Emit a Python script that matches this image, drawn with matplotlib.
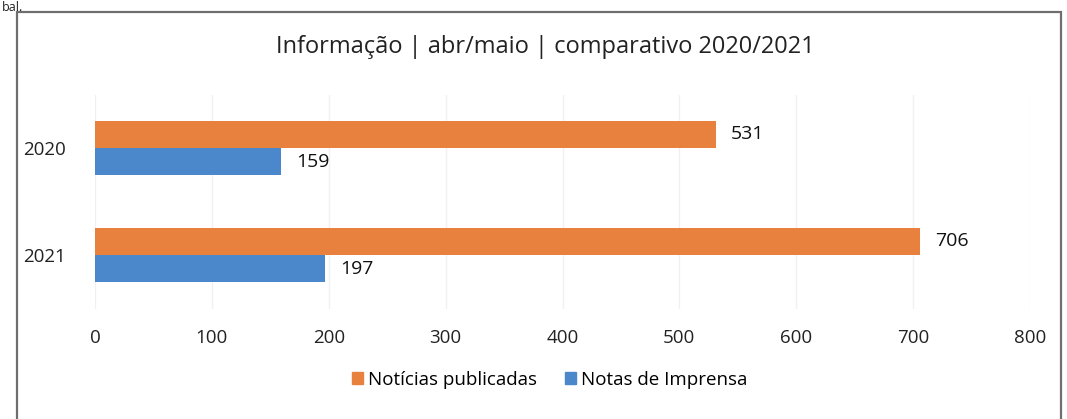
import matplotlib
matplotlib.use("Agg")
import matplotlib.pyplot as plt
from matplotlib.patches import Rectangle, Patch
import numpy as np

categories = ["2020", "2021"]
noticias = [531, 706]
notas = [159, 197]
xticks = [0, 100, 200, 300, 400, 500, 600, 700, 800]
title = "Informação | abr/maio | comparativo 2020/2021"
series_names = ["Notícias publicadas", "Notas de Imprensa"]

orange = "#E8803E"
blue = "#4A88CB"

plt.rcParams['font.family'] = ['Open Sans', 'DejaVu Sans']

W, H = 1067, 419
fig = plt.figure(figsize=(W / 100, H / 100), dpi=100)
fig.patch.set_facecolor("white")

# frame around chart
fig.patches.append(Rectangle((17 / W, -0.05), (1061 - 17) / W, 1 - 12 / H + 0.05,
                             transform=fig.transFigure, fill=False,
                             edgecolor="#6e6e6e", linewidth=1.6))
fig.text(2 / W, 1 - 1 / H, "bal.", fontsize=9, va="top", ha="left", color="#222222")

ax = fig.add_axes([95 / W, 1 - 308.5 / H, (1030 - 95) / W, (308.5 - 94.5) / H])
y = np.arange(len(categories))
h = 0.255
b1 = ax.barh(y - h / 2, noticias, height=h, color=orange)
b2 = ax.barh(y + h / 2, notas, height=h, color=blue)
ax.set_ylim(len(categories) - 0.5, -0.5)
ax.set_xlim(0, 800)
ax.set_xticks(xticks)
ax.set_xticklabels([str(t) for t in xticks], fontsize=13.5, color="#222222")
ax.set_yticks(y)
ax.set_yticklabels(categories, fontsize=13.5, color="#222222")
ax.tick_params(axis="both", length=0)
ax.tick_params(axis="x", pad=15)
ax.tick_params(axis="y", pad=21)
for s in ax.spines.values():
    s.set_visible(False)
ax.grid(axis="x", color="#f0f0f0", linewidth=1)
ax.set_axisbelow(True)

for bars in (b1, b2):
    for r in bars:
        ax.text(r.get_width() + 13, r.get_y() + r.get_height() / 2, str(int(r.get_width())),
                va="center", ha="left", fontsize=14, color="#111111")

fig.text(545 / W, 1 - 47 / H, title, ha="center", va="center", fontsize=17, color="#222222")

handles = [Patch(color=orange), Patch(color=blue)]
fig.legend(handles, series_names, loc="center", bbox_to_anchor=(550 / W, 1 - 380 / H),
           ncol=2, frameon=False, fontsize=13.5, handlelength=0.55, handleheight=0.6,
           handletextpad=0.3, columnspacing=1.5)

fig.savefig("out.png", dpi=100, facecolor="white")
